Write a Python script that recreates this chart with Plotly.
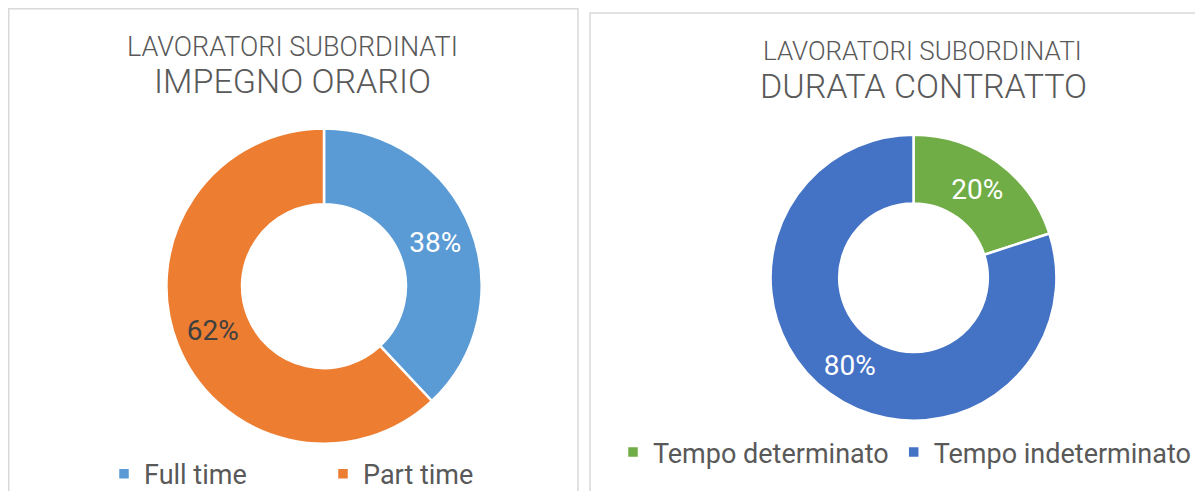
import plotly.graph_objects as go

W, H = 1203, 491
OFF = 8  # page body margin offset

# Data
labels_orario = ["Full time", "Part time"]
values_orario = [38, 62]
labels_durata = ["Tempo determinato", "Tempo indeterminato"]
values_durata = [20, 80]

colors_orario = ["#5B9BD5", "#ED7D31"]
colors_durata = ["#70AD47", "#4472C4"]

FONT = "Roboto"
GREY = "#595959"


def px(x):
    return (x - OFF) / W


def py(y):
    return 1 - (y - OFF) / H


fig = go.Figure()

fig.add_trace(go.Pie(
    labels=labels_orario, values=values_orario,
    hole=0.52, sort=False, direction="clockwise", rotation=0,
    marker=dict(colors=colors_orario, line=dict(color="white", width=2.5)),
    texttemplate="%{percent:.0%}", textposition="inside",
    insidetextorientation="horizontal",
    insidetextfont=dict(family=FONT, size=28, color=["white", "#404040"]),
    domain=dict(x=[px(164.8), px(483.2)], y=[py(448.2), py(129.8)]),
    legend="legend", hoverinfo="label+percent",
))

fig.add_trace(go.Pie(
    labels=labels_durata, values=values_durata,
    hole=0.52, sort=False, direction="clockwise", rotation=0,
    marker=dict(colors=colors_durata, line=dict(color="white", width=2.5)),
    texttemplate="%{percent:.0%}", textposition="inside",
    insidetextorientation="horizontal",
    insidetextfont=dict(family=FONT, size=28, color=["white", "white"]),
    domain=dict(x=[px(769.1), px(1057.9)], y=[py(424.9), py(136.1)]),
    legend="legend2", hoverinfo="label+percent",
))

shapes = [
    dict(type="rect", xref="paper", yref="paper",
         x0=px(8.75), x1=px(578), y0=py(H + 30), y1=py(8.75),
         line=dict(color="#D9D9D9", width=1.5), fillcolor="rgba(0,0,0,0)", layer="below"),
    dict(type="rect", xref="paper", yref="paper",
         x0=px(590), x1=px(W + 30), y0=py(H + 30), y1=py(13),
         line=dict(color="#D9D9D9", width=1.5), fillcolor="rgba(0,0,0,0)", layer="below"),
]

annotations = [
    dict(text="LAVORATORI SUBORDINATI", x=px(292), y=py(47), xref="paper", yref="paper",
         showarrow=False, xanchor="center", yanchor="middle",
         font=dict(family=FONT, size=27, color=GREY, weight=300)),
    dict(text="IMPEGNO ORARIO", x=px(292), y=py(82), xref="paper", yref="paper",
         showarrow=False, xanchor="center", yanchor="middle",
         font=dict(family=FONT, size=34, color=GREY, weight=300)),
    dict(text="LAVORATORI SUBORDINATI", x=px(922), y=py(51), xref="paper", yref="paper",
         showarrow=False, xanchor="center", yanchor="middle",
         font=dict(family=FONT, size=26, color=GREY, weight=300)),
    dict(text="DURATA CONTRATTO", x=px(924), y=py(87), xref="paper", yref="paper",
         showarrow=False, xanchor="center", yanchor="middle",
         font=dict(family=FONT, size=34, color=GREY, weight=300)),
]

fig.update_layout(
    width=W, height=H, autosize=False,
    margin=dict(l=0, r=0, t=0, b=0),
    paper_bgcolor="white", plot_bgcolor="white",
    shapes=shapes, annotations=annotations,
    legend=dict(orientation="h", x=px(104), y=py(479), xanchor="left", yanchor="middle",
                font=dict(family=FONT, size=27, color=GREY),
                entrywidth=174, entrywidthmode="pixels", bgcolor="rgba(0,0,0,0)"),
    legend2=dict(orientation="h", x=px(613), y=py(457), xanchor="left", yanchor="middle",
                 font=dict(family=FONT, size=27, color=GREY),
                 bgcolor="rgba(0,0,0,0)"),
    showlegend=True,
)

fig.write_html("out.html")
